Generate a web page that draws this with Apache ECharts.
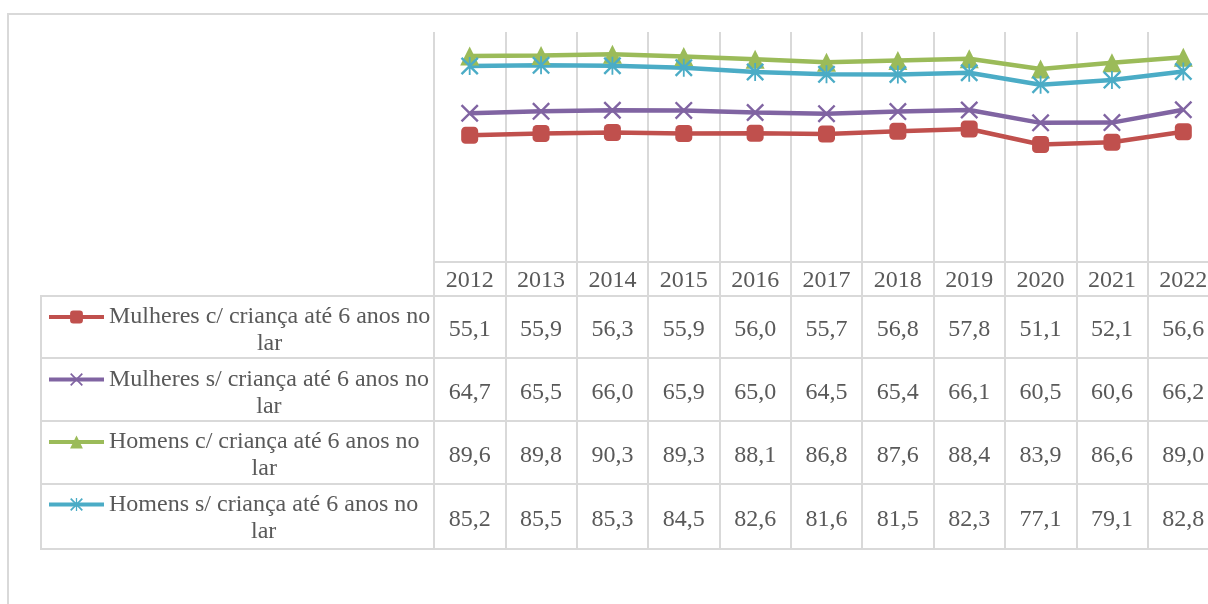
<!DOCTYPE html>
<html>
<head>
<meta charset="utf-8">
<title>Taxa de participação - com e sem criança até 6 anos no lar</title>
<script src="https://cdn.jsdelivr.net/npm/echarts@6/dist/echarts.min.js"></script>
<style>
  html, body { margin: 0; padding: 0; overflow: hidden; background: #fff; }
  #main { width: 1230px; height: 604px; }
</style>
</head>
<body>
<div id="main"></div>
<script>
const anos = ['2012', '2013', '2014', '2015', '2016', '2017', '2018', '2019', '2020', '2021', '2022'];
const mulheresCom = [55.1, 55.9, 56.3, 55.9, 56.0, 55.7, 56.8, 57.8, 51.1, 52.1, 56.6];
const mulheresSem = [64.7, 65.5, 66.0, 65.9, 65.0, 64.5, 65.4, 66.1, 60.5, 60.6, 66.2];
const homensCom = [89.6, 89.8, 90.3, 89.3, 88.1, 86.8, 87.6, 88.4, 83.9, 86.6, 89.0];
const homensSem = [85.2, 85.5, 85.3, 84.5, 82.6, 81.6, 81.5, 82.3, 77.1, 79.1, 82.8];

const nomes = [
  'Mulheres c/ criança até 6 anos no lar',
  'Mulheres s/ criança até 6 anos no lar',
  'Homens c/ criança até 6 anos no lar',
  'Homens s/ criança até 6 anos no lar'
];
const valores = [mulheresCom, mulheresSem, homensCom, homensSem];
const cores = ['#C0504D', '#8064A2', '#9BBB59', '#4BACC6'];

// marcadores no estilo do Excel
const simboloX = 'path://M0,1.5L1.5,0L8,6.5L14.5,0L16,1.5L9.5,8L16,14.5L14.5,16L8,9.5L1.5,16L0,14.5L6.5,8Z';
const simboloEstrela = simboloX + 'M7.2,0L8.8,0L8.8,16L7.2,16Z';
const simbolos = ['roundRect', simboloX, 'triangle', simboloEstrela];
const tamanhos = [17, 18, 19, 18];

const fonte = 'Liberation Serif, Times New Roman, serif';
const tamFonte = 24;
const corTexto = '#595959';
const corGrade = '#d9d9d9';

const fmt = v => v.toFixed(1).replace('.', ',');

// linhas da tabela (posições das linhas de cada série)
const linhasTabela = [296, 358, 421, 484, 549];

let series = [];
valores.forEach((serie, i) => {
  series.push({
    name: nomes[i],
    type: 'line',
    data: serie,
    symbol: simbolos[i],
    symbolSize: tamanhos[i],
    itemStyle: { color: cores[i] },
    lineStyle: { width: 4.5, color: cores[i] },
    emphasis: { disabled: true },
    animation: false
  });
});

// eixos extras: cada um mostra uma linha de valores da tabela
let eixosTabela = valores.map((serie, i) => ({
  type: 'category',
  gridIndex: 0,
  position: 'bottom',
  offset: linhasTabela[i] - 262,
  data: anos,
  axisLine: { show: false },
  axisTick: { show: false },
  splitLine: { show: false },
  axisLabel: {
    interval: 0,
    margin: (linhasTabela[i + 1] - linhasTabela[i]) / 2 - 9,
    fontFamily: fonte,
    fontSize: tamFonte,
    color: corTexto,
    formatter: (v, idx) => fmt(serie[idx])
  }
}));

let graficos = [
  // moldura externa
  { type: 'rect', shape: { x: 8, y: 14, width: 1400, height: 700 },
    style: { fill: 'none', stroke: corGrade, lineWidth: 2 }, silent: true },
  // borda esquerda da tabela
  { type: 'line', shape: { x1: 41, y1: 296, x2: 41, y2: 549 },
    style: { stroke: corGrade, lineWidth: 2 }, silent: true }
];
linhasTabela.forEach(y => {
  graficos.push({ type: 'line', shape: { x1: 40, y1: y, x2: 1230, y2: y },
    style: { stroke: corGrade, lineWidth: 2 }, silent: true });
});

var option = {
  backgroundColor: '#fff',
  animation: false,
  grid: { left: 434, right: 11, top: 32, bottom: 342, containLabel: false },
  xAxis: [{
    type: 'category',
    data: anos,
    boundaryGap: true,
    axisLine: { show: true, lineStyle: { color: corGrade, width: 2 } },
    axisTick: { show: true, length: 287, lineStyle: { color: corGrade, width: 2 } },
    splitLine: { show: true, lineStyle: { color: corGrade, width: 2 } },
    axisLabel: { interval: 0, margin: 7, fontFamily: fonte, fontSize: tamFonte, color: corTexto }
  }].concat(eixosTabela),
  yAxis: {
    type: 'value',
    min: 0,
    max: 100,
    show: false,
    splitLine: { show: false }
  },
  legend: {
    orient: 'vertical',
    left: 47,
    top: 305,
    padding: 0,
    itemGap: 11.5,
    itemWidth: 55,
    itemHeight: 16,
    data: nomes,
    selectedMode: false,
    lineStyle: { width: 4 },
    formatter: function (name) {
      let partes = name.split(' no lar');
      return '{a|' + partes[0] + ' no}\n{a|lar}';
    },
    textStyle: {
      padding: [27, 0, 0, 0],
      rich: {
        a: { fontFamily: fonte, fontSize: tamFonte, color: corTexto, lineHeight: 27, align: 'center' }
      }
    }
  },
  graphic: graficos,
  series: series
};

var myechart = echarts.init(document.getElementById('main'));
myechart.setOption(option);
</script>
</body>
</html>
